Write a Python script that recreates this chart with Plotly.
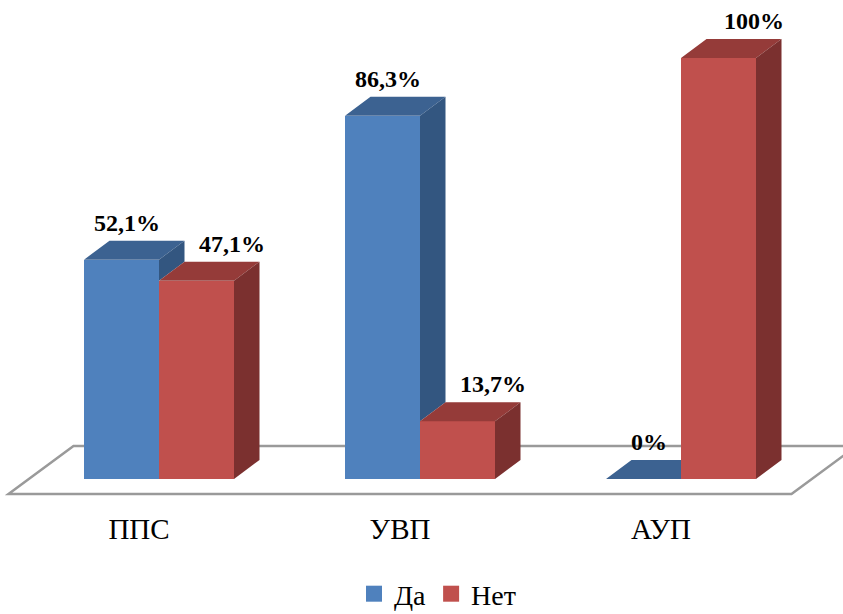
import plotly.graph_objects as go

# ---------------- data ----------------
categories = ["ППС", "УВП", "АУП"]
series_names = ["Да", "Нет"]
da_values = [52.1, 86.3, 0]
net_values = [47.1, 13.7, 100]

# ---------------- styling / geometry ----------------
FIG_W, FIG_H = 843, 614
PLOT_BOTTOM = 500                      # px, bottom of plotting area
PX_PER_X = 261.0                       # px per category unit
X_START = -159.0 / PX_PER_X            # data x at left edge
PX_PER_Y = 4.21                        # px per percent
Y_ZERO_PX = 479.0                      # px of value 0

x_range = [X_START, X_START + FIG_W / PX_PER_X]
y_range = [-(PLOT_BOTTOM - Y_ZERO_PX) / PX_PER_Y, Y_ZERO_PX / PX_PER_Y]

BAR_W = 75.0 / PX_PER_X
DX = 25.5 / PX_PER_X                   # depth offset (x)
DY = 19.0 / PX_PER_Y                   # depth offset (y)
FLOOR_FRONT = (-20.0 / PX_PER_X, -15.0 / PX_PER_Y)
FLOOR_BACK = (45.0 / PX_PER_X, 33.0 / PX_PER_Y)

FONT = "Liberation Serif"
colors = {
    "Да": {"front": "#4F81BD", "top": "#3C6291", "side": "#335680"},
    "Нет": {"front": "#C0504D", "top": "#953B39", "side": "#7B302F"},
}


def label(v):
    return "<b>" + f"{v:g}".replace(".", ",") + "%</b>"


def poly_trace(polys, color):
    xs, ys = [], []
    for p in polys:
        for (px, py) in p + [p[0]]:
            xs.append(px)
            ys.append(py)
        xs.append(None)
        ys.append(None)
    return go.Scatter(x=xs, y=ys, mode="lines", fill="toself", fillcolor=color,
                      line=dict(width=0, color=color), hoverinfo="skip",
                      showlegend=False)


fig = go.Figure()
xs = list(range(len(categories)))

# front faces (bars)
fig.add_trace(go.Bar(x=xs, y=da_values, width=BAR_W, offset=-BAR_W,
                     marker=dict(color=colors["Да"]["front"], line=dict(width=0)),
                     name="Да", showlegend=False))
fig.add_trace(go.Bar(x=xs, y=net_values, width=BAR_W, offset=0,
                     marker=dict(color=colors["Нет"]["front"], line=dict(width=0)),
                     name="Нет", showlegend=False))

# top / side faces of "Да" (clipped where hidden by "Нет")
da_top, da_side = [], []
for i, (v, vn) in enumerate(zip(da_values, net_values)):
    l, r = i - BAR_W, i
    if vn > v:
        da_top.append([(l, v), (r, v), (r, v + DY), (l + DX, v + DY)])
    else:
        da_top.append([(l, v), (r, v), (r + DX, v + DY), (l + DX, v + DY)])
        da_side.append([(r, vn), (r + DX, vn + DY), (r + DX, v + DY), (r, v)])
fig.add_trace(poly_trace(da_top, colors["Да"]["top"]))
if da_side:
    fig.add_trace(poly_trace(da_side, colors["Да"]["side"]))

# top / side faces of "Нет"
net_top, net_side = [], []
for i, v in enumerate(net_values):
    l, r = i, i + BAR_W
    net_top.append([(l, v), (r, v), (r + DX, v + DY), (l + DX, v + DY)])
    net_side.append([(r, 0), (r + DX, DY), (r + DX, v + DY), (r, v)])
fig.add_trace(poly_trace(net_top, colors["Нет"]["top"]))
fig.add_trace(poly_trace(net_side, colors["Нет"]["side"]))

# legend entries
for name in series_names:
    fig.add_trace(go.Scatter(x=[None], y=[None], mode="markers", name=name,
                             marker=dict(symbol="square", size=16,
                                         color=colors[name]["front"], line=dict(width=0))))

# floor
fl = -0.5
fr = len(categories) - 0.5
floor_pts = [(fl + FLOOR_FRONT[0], FLOOR_FRONT[1]), (fl + FLOOR_BACK[0], FLOOR_BACK[1]),
             (fr + FLOOR_BACK[0], FLOOR_BACK[1]), (fr + FLOOR_FRONT[0], FLOOR_FRONT[1])]
path = "M " + " L ".join(f"{x},{y}" for x, y in floor_pts) + " Z"
fig.add_shape(type="path", path=path, xref="x", yref="y", layer="below",
              fillcolor="white", line=dict(color="#9A9A9A", width=2.5))

# data labels
lab_dy = DY + 18.0 / PX_PER_Y
for i, v in enumerate(da_values):
    fig.add_annotation(x=i - BAR_W / 2 + 5.0 / PX_PER_X, y=v + lab_dy, text=label(v),
                       showarrow=False, xanchor="center", yanchor="middle",
                       font=dict(family=FONT, size=24, color="black"))
for i, v in enumerate(net_values):
    fig.add_annotation(x=i + BAR_W / 2 + 35.0 / PX_PER_X, y=v + lab_dy, text=label(v),
                       showarrow=False, xanchor="center", yanchor="middle",
                       font=dict(family=FONT, size=24, color="black"))

fig.update_layout(
    width=FIG_W, height=FIG_H,
    font=dict(family=FONT),
    margin=dict(l=0, r=0, t=0, b=FIG_H - PLOT_BOTTOM, pad=0, autoexpand=False),
    paper_bgcolor="white", plot_bgcolor="white",
    barmode="overlay", bargap=0,
    showlegend=True,
    legend=dict(orientation="h", x=0.519, xanchor="center",
                y=-(594 - PLOT_BOTTOM) / PLOT_BOTTOM, yanchor="middle",
                font=dict(family=FONT, size=28, color="black"),
                itemclick=False, itemdoubleclick=False),
    xaxis=dict(range=x_range, showgrid=False, zeroline=False, showline=False,
               ticks="", tickmode="array", automargin=False,
               tickvals=[i + FLOOR_FRONT[0] for i in xs], ticktext=categories,
               tickfont=dict(family=FONT, size=29, color="black"),
               ticklabelstandoff=9, fixedrange=True),
    yaxis=dict(range=y_range, visible=False, fixedrange=True, automargin=False),
)

fig.write_html("out.html")
